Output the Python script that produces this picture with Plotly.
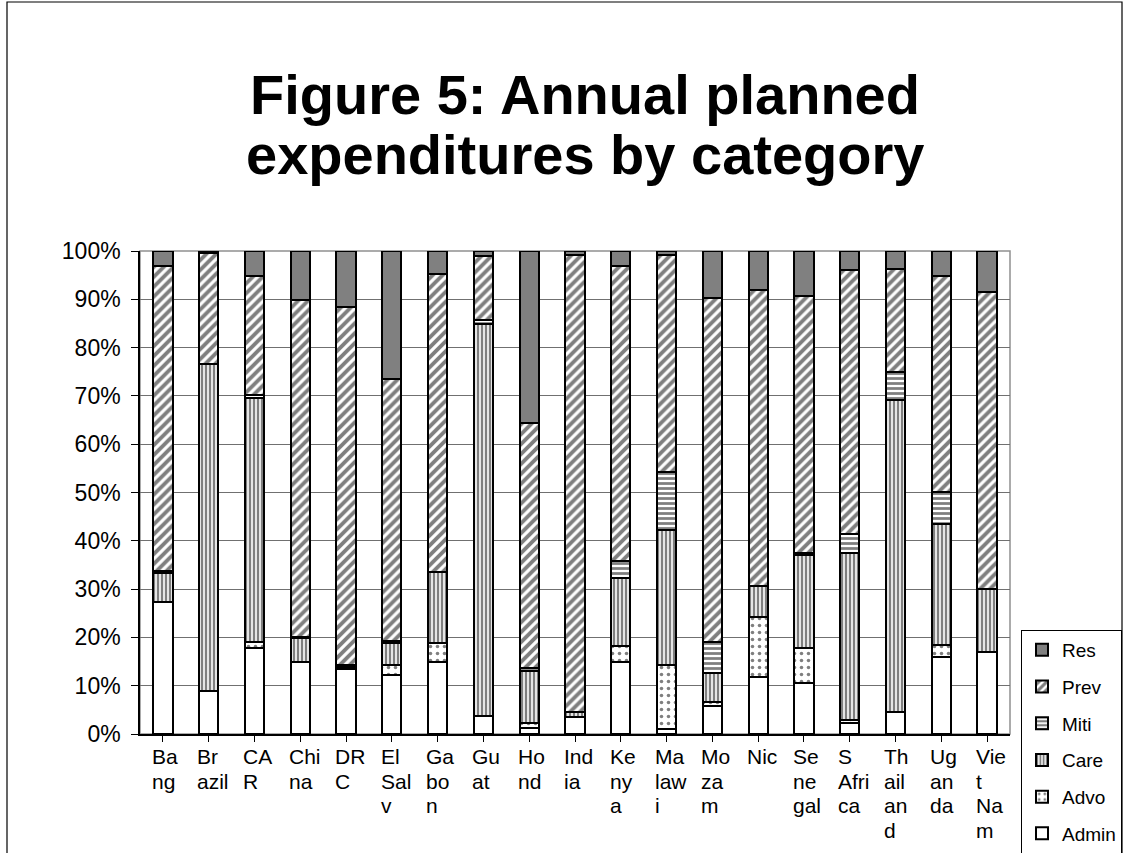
import plotly.graph_objects as go

# Countries (axis labels keep the wrapped spelling used on the chart)
countries = ["Bang", "Brazil", "CAR", "China", "DRC", "El Salv", "Gabon", "Guat",
             "Hond", "India", "Kenya", "Malawi", "Mozam", "Nic", "Senegal",
             "S Africa", "Thailand", "Uganda", "Viet Nam"]
tick_labels = ["Ba\nng", "Br\nazil", "CA\nR", "Chi\nna", "DR\nC", "El\nSal\nv",
               "Ga\nbo\nn", "Gu\nat", "Ho\nnd", "Ind\nia", "Ke\nny\na", "Ma\nlaw\ni",
               "Mo\nza\nm", "Nic", "Se\nne\ngal", "S\nAfri\nca", "Th\nail\nan\nd",
               "Ug\nan\nda", "Vie\nt\nNa\nm"]

# Share of annual planned expenditure by category (%)
admin = [27.4, 9.0, 17.9, 15.0, 13.4, 12.2, 15.0, 3.7, 1.2, 3.5, 15.0, 1.1, 5.8, 11.9, 10.6, 2.2, 4.6, 16.0, 17.0]
advo  = [0.0, 0.0, 1.2, 0.0, 0.5, 2.1, 3.8, 0.0, 1.0, 0.0, 3.2, 13.2, 0.8, 12.4, 7.3, 0.7, 0.0, 2.4, 0.0]
care  = [5.9, 67.7, 50.5, 4.8, 0.4, 4.5, 14.7, 81.1, 10.9, 1.1, 14.0, 27.9, 6.1, 6.4, 19.2, 34.6, 64.6, 25.1, 13.0]
miti  = [0.5, 0.0, 0.6, 0.3, 0.0, 0.4, 0.0, 0.9, 0.5, 0.0, 3.7, 12.1, 6.4, 0.0, 0.3, 4.0, 5.8, 6.7, 0.0]
prev  = [63.1, 22.9, 24.6, 69.8, 74.2, 54.2, 61.7, 13.3, 50.7, 94.6, 60.9, 44.9, 71.2, 61.2, 53.3, 54.6, 21.2, 44.6, 61.6]
res   = [3.1, 0.4, 5.2, 10.1, 11.5, 26.6, 4.8, 1.0, 35.7, 0.8, 3.2, 0.8, 9.7, 8.1, 9.3, 3.9, 3.8, 5.2, 8.4]

y_ticks = [0, 10, 20, 30, 40, 50, 60, 70, 80, 90, 100]

FONT = "Liberation Sans, Arial, sans-serif"

# (name, values, marker, legend rank: Res listed first, Admin last)
series = [
    ("Admin", admin, dict(color="white"), 6),
    ("Advo", advo, dict(color="white",
                        pattern=dict(shape=".", fgcolor="black", bgcolor="white", size=7, solidity=0.2)), 5),
    ("Care", care, dict(color="white",
                        pattern=dict(shape="|", fgcolor="black", bgcolor="white", size=4, solidity=0.6)), 4),
    ("Miti", miti, dict(color="white",
                        pattern=dict(shape="-", fgcolor="black", bgcolor="white", size=5, solidity=0.55)), 3),
    ("Prev", prev, dict(color="white",
                        pattern=dict(shape="/", fgcolor="black", bgcolor="white", size=7, solidity=0.55)), 2),
    ("Res", res, dict(color="#808080"), 1),
]

fig = go.Figure()
for name, vals, marker, rank in series:
    marker = dict(marker)
    marker["line"] = dict(color="black", width=2)
    fig.add_trace(go.Bar(
        name=name, x=list(range(len(countries))), y=vals,
        marker=marker, legendgroup=name, legendrank=rank,
        hovertext=countries,
    ))

fig.update_layout(
    barmode="stack",
    bargap=0.58,
    width=1124, height=853,
    margin=dict(l=140, r=114, t=251, b=119, autoexpand=False),
    paper_bgcolor="white", plot_bgcolor="white",
    font=dict(family=FONT, color="black"),
    showlegend=True,
    legend=dict(
        x=(1021 - 140) / 870, y=(734 - 630) / 483, xanchor="left", yanchor="top",
        traceorder="grouped", tracegroupgap=9,
        font=dict(size=19, family=FONT, color="black"),
        bordercolor="black", borderwidth=1, bgcolor="white",
        itemwidth=30,
    ),
)

fig.update_xaxes(
    range=[-0.5, len(countries) - 0.5],
    tickmode="array", tickvals=list(range(len(countries))), ticktext=[""] * len(countries),
    tickson="boundaries", ticks="outside", ticklen=6, tickcolor="black",
    showline=True, linecolor="black", linewidth=1.5,
    showgrid=False, zeroline=False, automargin=False,
)
fig.update_yaxes(
    range=[0, 100],
    tickmode="array", tickvals=y_ticks, ticktext=[f"{v}%" for v in y_ticks],
    ticks="outside", ticklen=7, tickcolor="black",
    tickfont=dict(size=23, family=FONT, color="black"),
    ticklabelstandoff=6,
    showline=True, linecolor="black", linewidth=1.5,
    showgrid=True, gridcolor="#707070", gridwidth=1.2,
    zeroline=False, automargin=False,
)

# Gray plot-area frame and outer chart border
fig.add_shape(type="rect", xref="paper", yref="paper", x0=0, x1=1, y0=0, y1=1,
              line=dict(color="#909090", width=1.5), layer="below")
fig.add_shape(type="rect", xref="paper", yref="paper",
              x0=(7 - 140) / 870, x1=(1122 - 140) / 870,
              y0=(734 - 900) / 483, y1=(734 - 2) / 483,
              line=dict(color="black", width=1.2), layer="below")

# Title, two lines
for text, ypix in [("Figure 5: Annual planned", 94), ("expenditures by category", 154)]:
    fig.add_annotation(text=f"<b>{text}</b>", xref="paper", yref="paper",
                       x=(585 - 140) / 870, y=(734 - ypix) / 483,
                       xanchor="center", yanchor="middle", showarrow=False,
                       font=dict(size=56, family=FONT, color="black"))

# Wrapped category labels, left aligned under each bar
for i, lab in enumerate(tick_labels):
    for j, line in enumerate(lab.split("\n")):
        fig.add_annotation(text=line, xref="x", yref="paper",
                           x=i - 0.29, y=0, yshift=-(9 + 24.5 * j),
                           xanchor="left", yanchor="top", showarrow=False,
                           font=dict(size=21, family=FONT, color="black"))

fig.write_html("out.html")
